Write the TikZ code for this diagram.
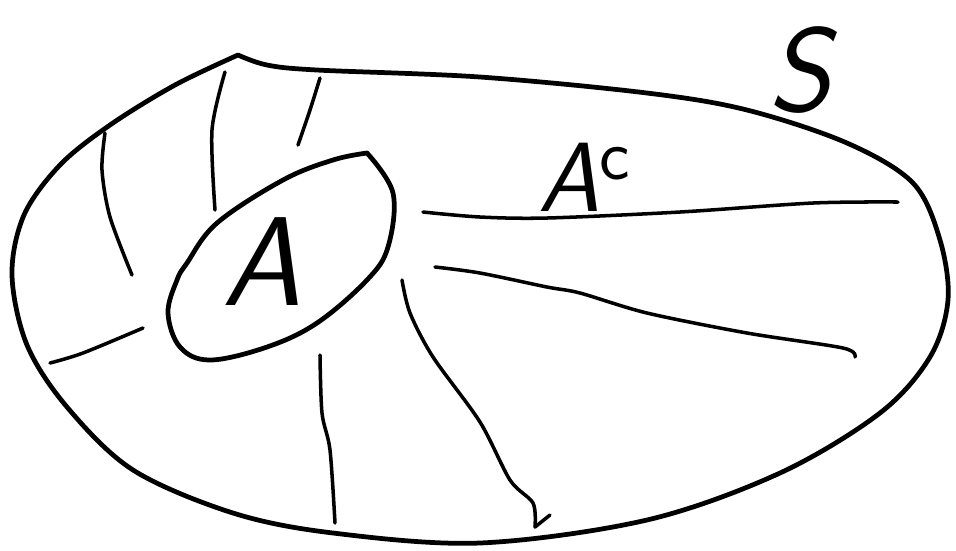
\documentclass[tikz,border=0pt]{standalone}
\usetikzlibrary{positioning}

\begin{document}
\begin{tikzpicture}[
        x=0.01cm, y=-0.01cm,
        boundary/.style={line width=1.35pt, line join=round, line cap=round},
        hatch/.style={line width=1pt, line cap=round},
        setlabel/.style={inner sep=0pt, font=\sffamily\slshape}
    ]
    \useasboundingbox (0,0) rectangle (956,550);

    % Sample space S
    \draw [boundary] plot [smooth, tension=0.55] coordinates {
        (238,55) (267,65) (317,70) (480,77) (647,93) (747,110) (847,143)
        (913,183) (940,240) (948,300) (930,357) (880,413) (780,473)
        (647,520) (480,543) (333,533) (233,513) (133,470) (67,407)
        (27,345) (12,275) (24,215) (60,165) (110,125) (175,85) (238,55)};

    % Event A
    \draw [boundary] plot [smooth, tension=0.6] coordinates {
        (367,153) (393,193) (388,247) (367,280) (317,323) (267,347)
        (210,360) (180,347) (168,313) (177,280) (187,263) (217,223)
        (283,180) (333,160) (367,153)};

    % Hatching of the complement
    \draw [hatch] plot [smooth] coordinates {(105,133) (102,170) (110,217) (132,275)};
    \draw [hatch] plot [smooth] coordinates {(225,72) (212,130) (215,210)};
    \draw [hatch] plot [smooth] coordinates {(320,78) (310,110) (298,145)};
    \draw [hatch] plot [smooth] coordinates {(50,363) (83,353) (143,328)};
    \draw [hatch] plot [smooth] coordinates {(320,355) (322,413) (330,450) (335,523)};
    \draw [hatch] plot [smooth] coordinates {(402,280) (410,313) (433,357) (480,422)
        (510,480) (533,503) (535,527)};
    \draw [hatch] (535,527) -- (550,515);
    \draw [hatch] plot [smooth] coordinates {(423,212) (480,217) (547,218) (680,212)
        (813,203) (898,202)};
    \draw [hatch] plot [smooth] coordinates {(435,267) (480,273) (547,287) (580,293)
        (647,313) (747,333) (843,348) (855,357)};

    % Labels
    \node (lblA) [setlabel, font=\fontsize{36}{40}\selectfont\sffamily\slshape] at (262,262) {A};
    \node (lblAc) [setlabel, font=\fontsize{28}{32}\selectfont\sffamily\slshape] at (585,177) {A$^{\mathsf{c}}$};
    \node (lblS) [setlabel, font=\fontsize{34}{38}\selectfont\sffamily\slshape] at (800,70) {S};

\end{tikzpicture}
\end{document}
